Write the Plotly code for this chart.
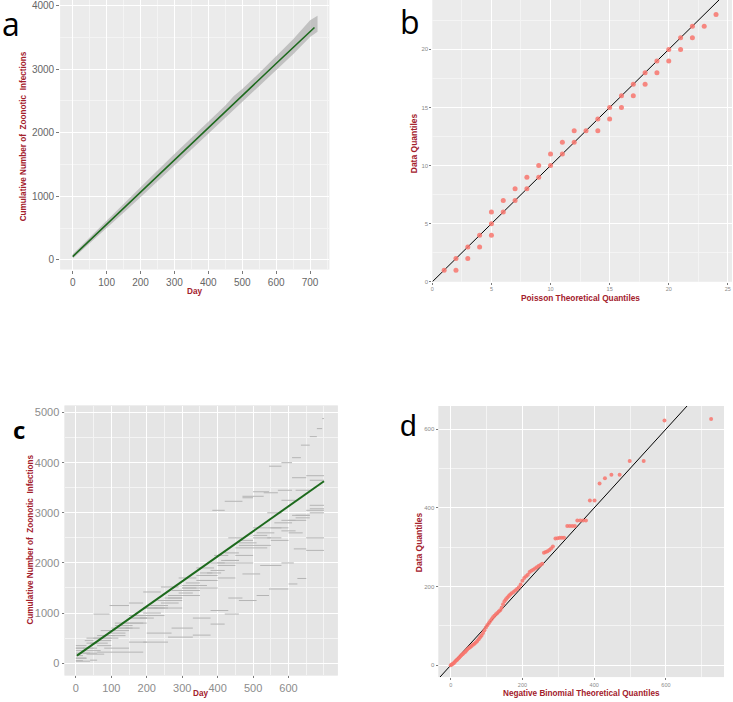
import plotly.graph_objects as go

W, H = 733, 702
RED = "#a3202b"
GREEN = "#1d6a1d"
PT = "#F8766D"

# ---------------- Panel a data ----------------
a_line_days = [0, 100, 200, 300, 400, 500, 600, 713]
a_line_counts = [52, 560, 1065, 1570, 2075, 2580, 3090, 3657]
a_band_days = [0, 50, 100, 150, 200, 250, 300, 350, 400, 450, 475, 500, 550, 600, 650, 700, 722]
a_band_upper = [90, 355, 625, 885, 1145, 1405, 1665, 1920, 2175, 2430, 2580, 2690, 2940, 3200, 3470, 3770, 3840]
a_band_lower = [20, 255, 495, 740, 985, 1235, 1485, 1735, 1985, 2235, 2360, 2480, 2735, 2985, 3235, 3505, 3590]

# ---------------- Panel b data ----------------
b_theor = [1, 2, 2, 3, 3, 4, 4, 5, 5, 5, 6, 6, 7, 7, 8, 8, 9, 9, 10, 10, 11, 11, 12, 12, 13,
           14, 14, 15, 15, 16, 16, 17, 17, 18, 18, 19, 19, 20, 20, 21, 21, 22, 22, 23, 24]
b_data = [1, 2, 1, 3, 2, 4, 3, 6, 5, 4, 7, 6, 8, 7, 9, 8, 10, 9, 11, 10, 12, 11, 13, 12, 13,
          14, 13, 15, 14, 16, 15, 17, 16, 18, 17, 19, 18, 20, 19, 21, 20, 22, 21, 22, 23]
b_ref = [0, 25]

# ---------------- Panel c data ----------------
c_fit_days = [3, 700]
c_fit_counts = [150, 3630]
c_sim_days = [
    [0, 40, 60, 190, 260, 330, 380, 420, 460, 510, 545, 600, 625, 650, 700],
    [0, 30, 80, 150, 200, 270, 330, 380, 430, 470, 520, 580, 615, 650, 700],
    [0, 20, 60, 100, 150, 200, 250, 300, 350, 400, 450, 500, 540, 580, 620, 660, 700],
    [0, 30, 70, 120, 160, 200, 250, 300, 350, 400, 450, 500, 550, 600, 650, 700],
    [0, 40, 90, 140, 190, 240, 290, 330, 370, 410, 460, 510, 560, 610, 660, 700],
    [0, 30, 60, 110, 160, 210, 260, 300, 340, 380, 420, 460, 500, 540, 580, 620, 660, 700],
    [0, 50, 100, 150, 200, 250, 300, 350, 385, 420, 470, 530, 570, 610, 650, 700],
    [0, 25, 50, 95, 150, 190, 240, 290, 340, 390, 430, 470, 500, 545, 580, 610, 635, 660, 680, 695, 700],
    [0, 20, 60, 100, 140, 180, 220, 260, 300, 340, 380, 420, 460, 500, 540, 580, 620, 660, 700],
    [0, 30, 70, 110, 150, 190, 230, 270, 310, 350, 400, 450, 500, 550, 600, 640],
]
c_sim_counts = [
    [40, 60, 220, 420, 520, 560, 780, 980, 1250, 1350, 1480, 1580, 1690, 2250, 2250],
    [100, 180, 300, 420, 600, 700, 900, 1050, 1300, 1780, 1950, 2000, 2280, 2500, 2500],
    [150, 300, 450, 650, 800, 950, 1100, 1350, 1500, 1700, 2000, 2300, 2500, 2640, 2900, 3080, 3100],
    [100, 250, 500, 700, 900, 1100, 1250, 1450, 1650, 2000, 2300, 2500, 2700, 2850, 3050, 3150],
    [200, 400, 600, 800, 1000, 1200, 1400, 1550, 1800, 2050, 2400, 2600, 2800, 2950, 3150, 3200],
    [250, 400, 550, 750, 950, 1150, 1350, 1550, 1750, 2000, 2200, 2450, 2700, 3000, 3250, 3450, 3650, 3720],
    [300, 500, 700, 900, 1100, 1300, 1500, 1800, 3050, 3230, 3330, 3400, 3450, 3700, 3740, 3760],
    [300, 450, 980, 1150, 1200, 1420, 1520, 1700, 1900, 2150, 2500, 3300, 3420, 3930, 4000, 4100, 4350, 4520, 4680, 4880, 4880],
    [50, 200, 350, 550, 700, 900, 1100, 1300, 1500, 1650, 1850, 2050, 2350, 2550, 2700, 2850, 2950, 3000, 3050],
    [350, 500, 650, 800, 950, 1100, 1250, 1450, 1600, 1750, 1950, 2150, 2350, 2450, 2600, 2640],
]

# ---------------- Panel d data ----------------
d_theor = [0, 3, 6, 9, 12, 15, 18, 21, 24, 27, 30, 33, 36, 40, 43, 46, 50, 54, 58, 62, 66, 70, 74, 78,
           82, 86, 90, 94, 98, 102, 106, 110, 114, 118, 122, 126, 130, 134, 138, 142, 146, 150, 154,
           158, 162, 166, 170, 175, 180, 185, 190, 195, 200, 205, 210, 215, 220, 225, 230, 235, 240,
           245, 250, 255, 260, 265, 270, 275, 280, 285, 292, 298, 304, 310, 316, 325, 332, 339, 346,
           353, 361, 369, 377, 388, 401, 415, 430, 448, 471, 499, 538, 596, 726]
d_data = [0, 2, 4, 6, 9, 12, 14, 17, 20, 23, 26, 28, 31, 34, 37, 40, 43, 46, 49, 52, 55, 58, 62, 66,
          71, 76, 82, 89, 96, 102, 107, 112, 117, 122, 126, 130, 133, 137, 140, 146, 155, 163, 168,
          172, 176, 180, 183, 186, 190, 194, 198, 205, 215, 222, 226, 230, 237, 240, 243, 246, 249,
          252, 255, 258, 286, 288, 290, 293, 297, 302, 322, 323, 324, 324, 324, 354, 354, 354, 354,
          368, 368, 368, 368, 419, 419, 462, 475, 484, 484, 519, 519, 622, 626]
d_ref = [-40, 800]


def seg_xy(days, counts):
    xs, ys = [], []
    for i in range(len(days) - 1):
        xs += [days[i], days[i + 1], None]
        ys += [counts[i], counts[i], None]
    return xs, ys


fig = go.Figure()

# Panel a
fig.add_trace(go.Scatter(x=a_band_days, y=a_band_lower, mode="lines", line=dict(width=0),
                         xaxis="x", yaxis="y", showlegend=False, hoverinfo="skip"))
fig.add_trace(go.Scatter(x=a_band_days, y=a_band_upper, mode="lines", line=dict(width=0),
                         fill="tonexty", fillcolor="rgba(175,175,175,0.7)",
                         xaxis="x", yaxis="y", showlegend=False, hoverinfo="skip"))
fig.add_trace(go.Scatter(x=a_line_days, y=a_line_counts, mode="lines",
                         line=dict(color=GREEN, width=1.6), xaxis="x", yaxis="y", showlegend=False))

# Panel b
fig.add_trace(go.Scatter(x=b_ref, y=b_ref, mode="lines", line=dict(color="black", width=1),
                         xaxis="x2", yaxis="y2", showlegend=False))
fig.add_trace(go.Scatter(x=b_theor, y=b_data, mode="markers",
                         marker=dict(color=PT, size=5, opacity=0.85, line=dict(width=0)),
                         xaxis="x2", yaxis="y2", showlegend=False))

# Panel c
for dd, cc in zip(c_sim_days, c_sim_counts):
    xs, ys = seg_xy(dd, cc)
    fig.add_trace(go.Scatter(x=xs, y=ys, mode="lines", line=dict(color="#b4b4b4", width=1),
                             xaxis="x3", yaxis="y3", showlegend=False, connectgaps=False))
fig.add_trace(go.Scatter(x=c_fit_days, y=c_fit_counts, mode="lines",
                         line=dict(color=GREEN, width=2), xaxis="x3", yaxis="y3", showlegend=False))

# Panel d
fig.add_trace(go.Scatter(x=d_ref, y=d_ref, mode="lines", line=dict(color="black", width=1),
                         xaxis="x4", yaxis="y4", showlegend=False))
fig.add_trace(go.Scatter(x=d_theor, y=d_data, mode="markers",
                         marker=dict(color=PT, size=4, opacity=0.85, line=dict(width=0)),
                         xaxis="x4", yaxis="y4", showlegend=False))


def ax(domain, rng, dtick, minor_dtick, anchor, fsize, fcolor, tlen=3, tick0=0):
    return dict(domain=domain, range=rng, tick0=tick0, dtick=dtick, anchor=anchor,
                showgrid=True, gridcolor="white", gridwidth=1, zeroline=False,
                ticks="outside", ticklen=tlen, tickcolor="#7a7a7a", tickwidth=1,
                tickfont=dict(family="Liberation Sans, Arial", size=fsize, color=fcolor),
                minor=dict(dtick=minor_dtick, tick0=tick0, showgrid=True, gridcolor="#f4f4f4", gridwidth=0.6, ticks=""),
                showline=False, fixedrange=True)


def px_x(p):
    return p / W


def px_y(p):
    return 1 - p / H


layout = dict(
    width=W, height=H, margin=dict(l=0, r=0, t=0, b=0),
    paper_bgcolor="white", plot_bgcolor="#EBEBEB", showlegend=False,
    xaxis=ax([px_x(58.3), px_x(328.3)], [-37, 757], 100, 50, "y", 10, "#666666"),
    yaxis=ax([px_y(270.7), px_y(0)], [-152, 4089], 1000, 500, "x", 10, "#666666"),
    xaxis2=ax([px_x(431.5), px_x(732)], [0, 25.35], 5, 2.5, "y2", 5.5, "#8a8a8a", tlen=2),
    yaxis2=ax([px_y(283), px_y(0)], [0, 24.25], 5, 2.5, "x2", 6, "#8a8a8a", tlen=2),
    xaxis3=ax([px_x(62.7), px_x(336.7)], [-32, 739], 100, 50, "y3", 11, "#8c8c8c", tlen=2),
    yaxis3=ax([px_y(678.3), px_y(407.3)], [-244, 5140], 1000, 500, "x3", 11, "#8c8c8c", tlen=2),
    xaxis4=ax([px_x(437.7), px_x(724)], [-34, 762], 200, 100, "y4", 5.5, "#8a8a8a", tlen=2),
    yaxis4=ax([px_y(680), px_y(407.7)], [-30, 659], 200, 100, "x4", 6, "#8a8a8a", tlen=2),
)
fig.update_layout(**layout)
fig.update_layout(xaxis3=dict(tickvals=[0, 100, 200, 300, 400, 500, 600]))

# panel backgrounds for c and d (slightly darker grey)
for xr, yr in [("x3", "y3"), ("x4", "y4")]:
    fig.add_shape(type="rect", xref=xr + " domain", yref=yr + " domain", x0=0, x1=1, y0=0, y1=1,
                  fillcolor="#E5E5E5", line=dict(width=0), layer="below")

TF = "Liberation Sans, Arial"
ann = []


def title(text, x, y, size, angle=0):
    ann.append(dict(text="<b>" + text + "</b>", x=px_x(x), y=px_y(y), xref="paper", yref="paper",
                    showarrow=False, textangle=angle, xanchor="center", yanchor="middle",
                    font=dict(family=TF, size=size, color=RED)))


title("Cumulative Number of  Zoonotic  Infections", 21, 137, 8.2, -90)
title("Day", 193, 293, 8.2)
title("Data Quantiles", 414, 144, 8.5, -90)
title("Poisson Theoretical Quantiles", 580, 299.5, 8.3)
title("Cumulative Number of  Zoonotic  Infections", 29, 542, 8.2, -90)
title("Day", 199, 696, 8.2)
title("Data Quantiles", 417.7, 545, 8.5, -90)
title("Negative Binomial Theoretical Quantiles", 581, 696.5, 8.2)


def label(text, x, y, size, bold=False, family="Open Sans"):
    t = "<b>" + text + "</b>" if bold else text
    ann.append(dict(text=t, x=px_x(x), y=px_y(y), xref="paper", yref="paper", showarrow=False,
                    xanchor="left", yanchor="middle", font=dict(family=family, size=size, color="black")))


label("a", -2, 24, 32)
label("b", 397, 22, 32)
label("c", 9, 431, 24, bold=True)
label("d", 397, 427, 30, family="Liberation Sans, Arial")

fig.update_layout(annotations=ann)
fig.write_html("out.html", config={"displayModeBar": False},
               post_script="document.body.style.margin='0';document.body.style.overflow='hidden';")
